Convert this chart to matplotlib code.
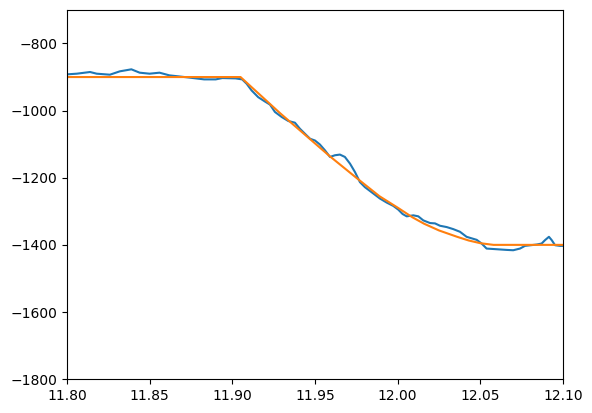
import numpy as np
from matplotlib import pyplot as plt

# measured trace (blue)
t_meas = [11.800, 11.806, 11.814, 11.818, 11.826, 11.832, 11.839, 11.844, 11.850,
          11.856, 11.862, 11.873, 11.883, 11.890, 11.894, 11.902, 11.906, 11.9087,
          11.9117, 11.9157, 11.9198, 11.9228, 11.9258, 11.9299, 11.9339, 11.9379,
          11.9409, 11.9450, 11.9471, 11.9500, 11.9530, 11.9560, 11.9591, 11.9621,
          11.9651, 11.9681, 11.9712, 11.9742, 11.9772, 11.9802, 11.9853, 11.9893,
          11.9934, 11.9974, 12.0004, 12.0030, 12.0055, 12.0095, 12.0125, 12.0155,
          12.0196, 12.0226, 12.0256, 12.0297, 12.0336, 12.0377, 12.0417, 12.0478,
          12.0508, 12.0538, 12.0599, 12.0659, 12.0699, 12.0740, 12.0770, 12.0841,
          12.0871, 12.0891, 12.0915, 12.0932, 12.0952, 12.0982, 12.1000]
y_meas = [-892, -890, -885, -890, -893, -883, -877, -887, -890,
          -887, -895, -901, -907, -907, -903, -904, -907, -920,
          -940, -960, -973, -982, -1004, -1019, -1031, -1036,
          -1054, -1074, -1084, -1089, -1101, -1118, -1138, -1133,
          -1131, -1138, -1158, -1183, -1213, -1228, -1247, -1262,
          -1274, -1284, -1295, -1308, -1315, -1312, -1315, -1327,
          -1335, -1336, -1343, -1347, -1353, -1361, -1376, -1385,
          -1396, -1411, -1413, -1415, -1416, -1411, -1403, -1399,
          -1396, -1386, -1376, -1386, -1401, -1403, -1403]

# reference trajectory (orange)
t_ref = [11.800, 11.905, 11.929, 11.959, 11.975, 11.989, 12.000, 12.009,
         12.016, 12.025, 12.036, 12.043, 12.050, 12.058, 12.100]
y_ref = [-900, -900, -1008, -1136, -1200, -1255, -1289, -1318,
         -1337, -1357, -1376, -1387, -1395, -1400, -1400]

fig = plt.figure(figsize=(5.92, 4.13), dpi=100)
ax = fig.add_axes([0.113, 0.082, 0.838, 0.894])
ax.plot(t_meas, y_meas)
ax.plot(t_ref, y_ref)
ax.set_xlim(11.80, 12.10)
ax.set_ylim(-1800, -700)
ax.set_xticks([11.80, 11.85, 11.90, 11.95, 12.00, 12.05, 12.10])
fig.savefig('out.png')
